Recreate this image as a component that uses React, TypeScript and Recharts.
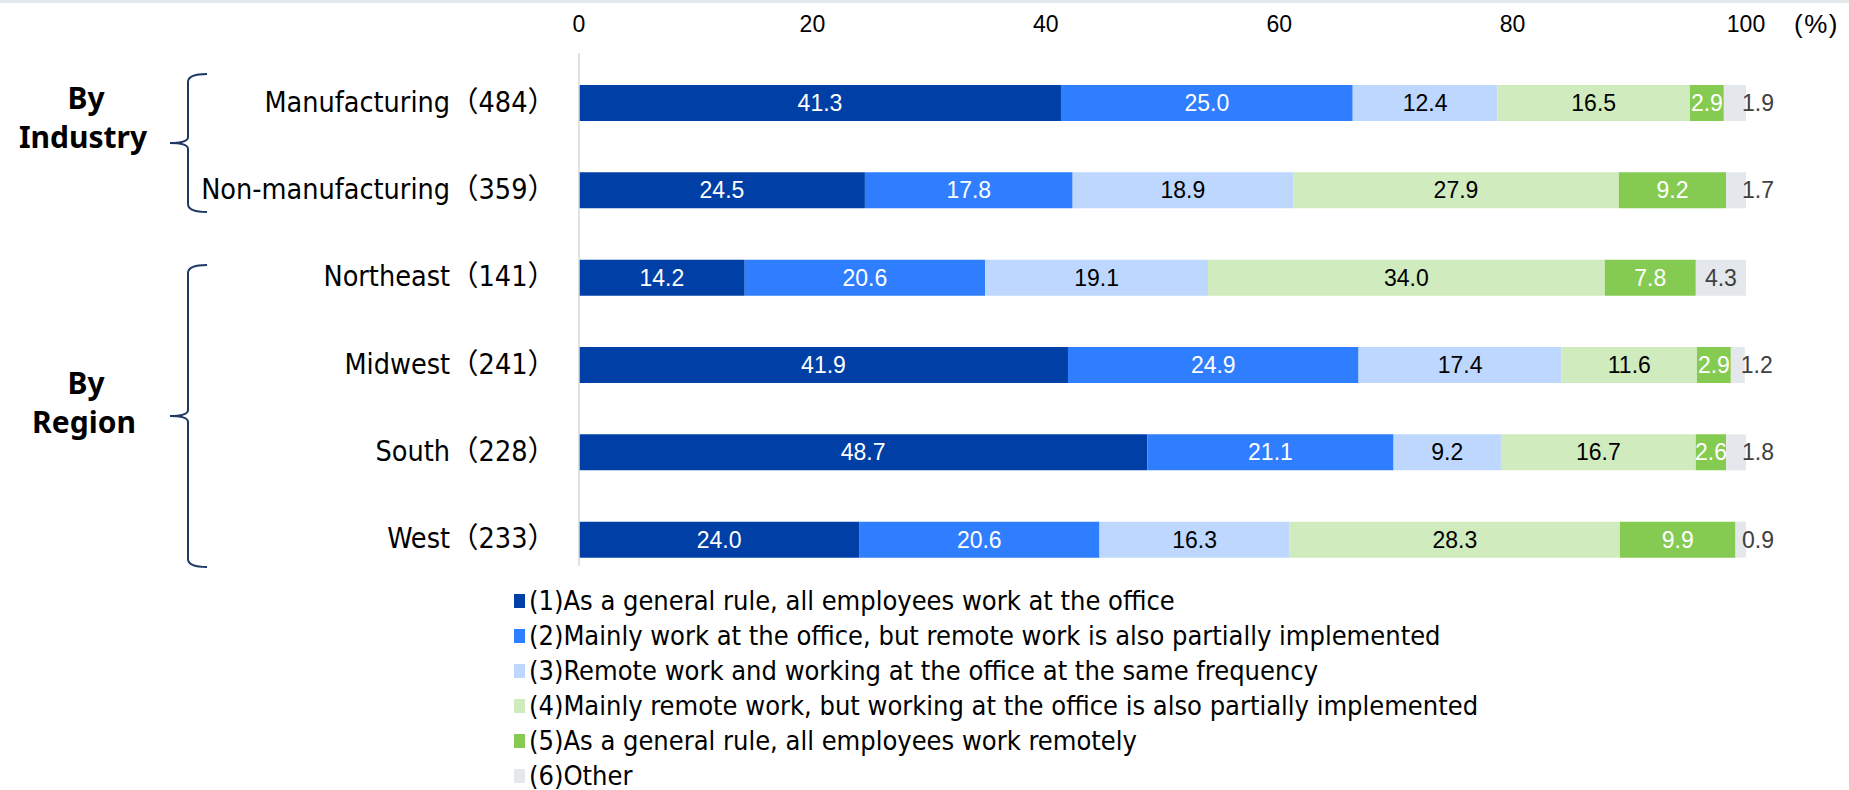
import React from 'react';
import { BarChart, Bar, XAxis, YAxis, LabelList } from 'recharts';

const categories = ['Manufacturing', 'Non-manufacturing', 'Northeast', 'Midwest', 'South', 'West'];
const counts = [484, 359, 141, 241, 228, 233];

const s1 = [41.3, 24.5, 14.2, 41.9, 48.7, 24.0];
const s2 = [25.0, 17.8, 20.6, 24.9, 21.1, 20.6];
const s3 = [12.4, 18.9, 19.1, 17.4, 9.2, 16.3];
const s4 = [16.5, 27.9, 34.0, 11.6, 16.7, 28.3];
const s5 = [2.9, 9.2, 7.8, 2.9, 2.6, 9.9];
const s6 = [1.9, 1.7, 4.3, 1.2, 1.8, 0.9];

const seriesNames = [
  '(1)As a general rule, all employees work at the office',
  '(2)Mainly work at the office, but remote work is also partially implemented',
  '(3)Remote work and working at the office at the same frequency',
  '(4)Mainly remote work, but working at the office is also partially implemented',
  '(5)As a general rule, all employees work remotely',
  '(6)Other',
];
const xTicks = [0, 20, 40, 60, 80, 100];

const colors = ['#0040A6', '#2F7EFF', '#BDD7FE', '#D0EBBD', '#86CB51', '#E4E7EB'];
const labelColors = ['#fff', '#fff', '#000', '#000', '#fff', '#404040'];

const keys = ['s1', 's2', 's3', 's4', 's5', 's6'];
const allSeries = [s1, s2, s3, s4, s5, s6];
const data = categories.map((c, i) => {
  const row: any = { name: `${c}（${counts[i]}）` };
  keys.forEach((k, j) => (row[k] = allSeries[j][i]));
  return row;
});

const NARROW = "'Liberation Sans Narrow', 'Arial Narrow', 'DejaVu Sans Condensed', 'Noto Sans CJK JP', sans-serif";
const SANS = "'Liberation Sans', Arial, 'Noto Sans CJK JP', sans-serif";

const CatTick = (props: any) => {
  const { y, payload } = props;
  return (
    <text x={556} y={y} dy={9} textAnchor="end" fontSize={28.5} fontFamily={NARROW} fill="#000">
      {payload.value}
    </text>
  );
};

const ValTick = (props: any) => {
  const { x, payload } = props;
  return (
    <text x={x} y={32} textAnchor="middle" fontSize={23} fontFamily={SANS} fill="#000">
      {payload.value}
    </text>
  );
};

const makeLabel = (idx: number) => (props: any) => {
  const { x, y, width, height, value } = props;
  const other = idx === 5 && value < 3;
  return (
    <text
      x={other ? x + width - 4 : x + width / 2}
      y={y + height / 2}
      dy={8}
      textAnchor={other ? 'start' : 'middle'}
      fontSize={23}
      fontFamily={SANS}
      fill={labelColors[idx]}
    >
      {value.toFixed(1)}
    </text>
  );
};

const LegendBox = () => (
  <div style={{ position: 'absolute', left: 514, top: 583, fontFamily: NARROW, fontSize: 27, color: '#000', lineHeight: 1 }}>
    {seriesNames.map((n, i) => (
      <div key={i} style={{ display: 'flex', alignItems: 'center', height: 35, whiteSpace: 'nowrap' }}>
        <span style={{ width: 11, height: 14, background: colors[i], marginRight: 4, display: 'inline-block' }} />
        {n}
      </div>
    ))}
  </div>
);

const Brace = ({ top, bottom, tip }: { top: number; bottom: number; tip: number }) => (
  <path
    d={`M207 ${top} Q188 ${top} 188 ${top + 8} L188 ${tip - 6} Q188 ${tip} 170 ${tip} Q188 ${tip} 188 ${tip + 6} L188 ${bottom - 8} Q188 ${bottom} 207 ${bottom}`}
    fill="none"
    stroke="#1F3864"
    strokeWidth={2}
  />
);

export default function App() {
  return (
    <div style={{ position: 'absolute', left: 0, top: 0, width: 1849, height: 790, background: '#fff', overflow: 'hidden' }}>
      <div style={{ position: 'absolute', left: 0, top: 0, width: 1849, height: 3, background: '#E6E9EC' }} />
      <BarChart
        width={1849}
        height={790}
        data={data}
        layout="vertical"
        margin={{ top: 0, right: 103, bottom: 207, left: 0 }}
        barCategoryGap={0}
      >
        <XAxis
          type="number"
          orientation="top"
          domain={[0, 100]}
          ticks={xTicks}
          allowDataOverflow
          axisLine={false}
          tickLine={false}
          height={59}
          tick={<ValTick />}
        />
        <YAxis
          type="category"
          dataKey="name"
          width={579}
          axisLine={false}
          tickLine={false}
          tick={<CatTick />}
          interval={0}
        />
        {keys.map((k, i) => (
          <Bar key={k} dataKey={k} stackId="a" fill={colors[i]} barSize={36} isAnimationActive={false}>
            <LabelList dataKey={k} content={makeLabel(i)} />
          </Bar>
        ))}
      </BarChart>
      <LegendBox />
      <svg
        width={1849}
        height={790}
        style={{ position: 'absolute', left: 0, top: 0, pointerEvents: 'none' }}
      >
        <line x1={579} y1={53} x2={579} y2={566} stroke="#D9D9D9" strokeWidth={1.5} />
        <text x={1794} y={33} fontSize={26} fontFamily={SANS} letterSpacing={1.5} fill="#000">(%)</text>
        <g fontFamily="'Noto Sans', sans-serif" fontWeight="bold" fontSize={30} fill="#000" textAnchor="middle">
          <text x={86} y={109}>By</text>
          <text x={83} y={148}>Industry</text>
          <text x={86} y={394}>By</text>
          <text x={84} y={433}>Region</text>
        </g>
        <Brace top={74} bottom={212} tip={143} />
        <Brace top={265} bottom={567} tip={416} />
      </svg>
    </div>
  );
}
